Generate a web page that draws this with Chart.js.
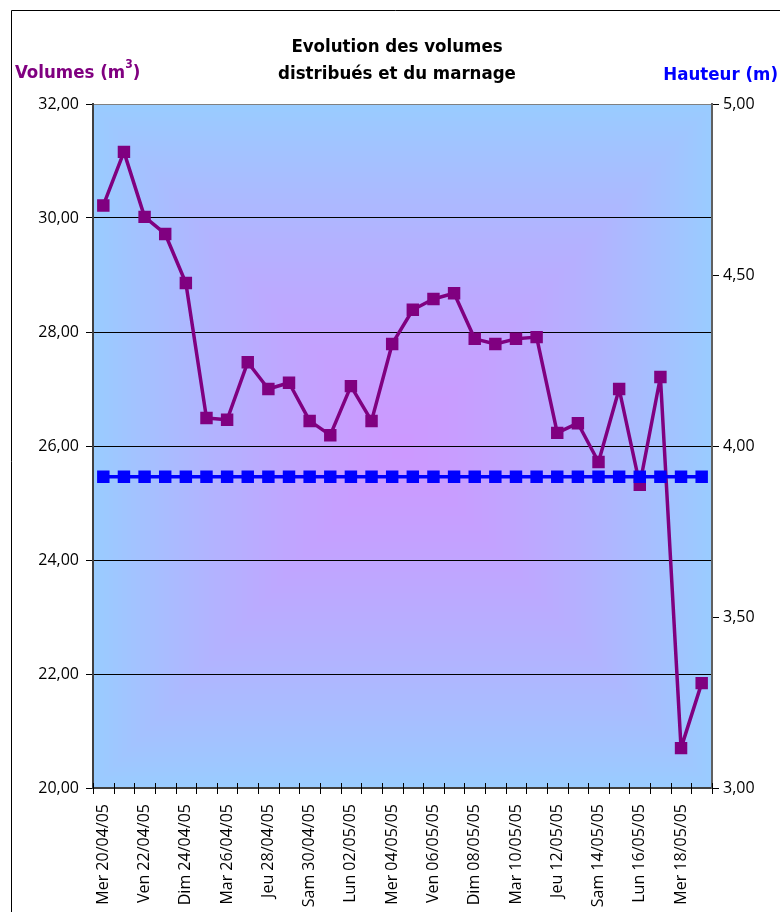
<!DOCTYPE html>
<html>
<head>
<meta charset="utf-8">
<script src="https://cdn.jsdelivr.net/npm/chart.js@4.4.1/dist/chart.umd.min.js"></script>
<style>
  html, body { margin: 0; padding: 0; background: #fff; overflow: hidden; }
  #wrap { position: relative; width: 780px; height: 912px; }
</style>
</head>
<body>
<div id="wrap"><canvas id="c" width="780" height="912"></canvas></div>
<script>
// Days of the period, one category per day
const days = [
  "Mer 20/04/05", "Jeu 21/04/05", "Ven 22/04/05", "Sam 23/04/05", "Dim 24/04/05",
  "Lun 25/04/05", "Mar 26/04/05", "Mer 27/04/05", "Jeu 28/04/05", "Ven 29/04/05",
  "Sam 30/04/05", "Dim 01/05/05", "Lun 02/05/05", "Mar 03/05/05", "Mer 04/05/05",
  "Jeu 05/05/05", "Ven 06/05/05", "Sam 07/05/05", "Dim 08/05/05", "Lun 09/05/05",
  "Mar 10/05/05", "Mer 11/05/05", "Jeu 12/05/05", "Ven 13/05/05", "Sam 14/05/05",
  "Dim 15/05/05", "Lun 16/05/05", "Mar 17/05/05", "Mer 18/05/05", "Jeu 19/05/05"
];

// Distributed volumes (m3), left axis
const volumes = [
  30.22, 31.16, 30.02, 29.72, 28.86, 26.49, 26.46, 27.47, 27.00, 27.11,
  26.44, 26.19, 27.05, 26.44, 27.79, 28.39, 28.58, 28.68, 27.88, 27.79,
  27.88, 27.91, 26.23, 26.40, 25.72, 27.00, 25.32, 27.21, 20.70, 21.84
];

// Water height (m), right axis
const hauteur = [
  3.91, 3.91, 3.91, 3.91, 3.91, 3.91, 3.91, 3.91, 3.91, 3.91,
  3.91, 3.91, 3.91, 3.91, 3.91, 3.91, 3.91, 3.91, 3.91, 3.91,
  3.91, 3.91, 3.91, 3.91, 3.91, 3.91, 3.91, 3.91, 3.91, 3.91
];

// Axis tick values
const volumeTicks = [20, 22, 24, 26, 28, 30, 32];
const hauteurTicks = [3.0, 3.5, 4.0, 4.5, 5.0];

const TICK_FONT = "'Open Sans', sans-serif";
const TITLE_FONT = "'DejaVu Sans Condensed', 'DejaVu Sans', sans-serif";

const fmt = v => Number(v).toFixed(2).replace('.', ',');

// "From centre" gradient behind the plot: lilac in the middle, sky blue at the edges
const backdrop = {
  id: 'backdrop',
  beforeDraw(chart) {
    const a = chart.chartArea;
    const ctx = chart.ctx;
    const w = Math.round(a.right - a.left), h = Math.round(a.bottom - a.top);
    const img = ctx.createImageData(w, h);
    const edge = [153, 204, 255], mid = [204, 153, 255];
    const cx = w / 2, cy = h / 2;
    for (let y = 0; y < h; y++) {
      for (let x = 0; x < w; x++) {
        const r = Math.max(Math.abs(x - cx) / cx, Math.abs(y - cy) / cy);
        const t = Math.min(1, Math.pow(r, 1.4));
        const i = (y * w + x) * 4;
        img.data[i] = mid[0] + (edge[0] - mid[0]) * t;
        img.data[i + 1] = mid[1] + (edge[1] - mid[1]) * t;
        img.data[i + 2] = mid[2] + (edge[2] - mid[2]) * t;
        img.data[i + 3] = 255;
      }
    }
    ctx.putImageData(img, Math.round(a.left), Math.round(a.top));
  }
};

// Frame, titles and category tick marks crossing the x axis
const decor = {
  id: 'decor',
  afterDraw(chart) {
    const ctx = chart.ctx;
    const a = chart.chartArea;
    ctx.save();
    // outer frame
    ctx.strokeStyle = '#000';
    ctx.lineWidth = 1;
    ctx.beginPath();
    ctx.moveTo(11.5, 912);
    ctx.lineTo(11.5, 10.5);
    ctx.lineTo(780, 10.5);
    ctx.stroke();

    // chart title
    ctx.fillStyle = '#000';
    ctx.textAlign = 'center';
    ctx.textBaseline = 'middle';
    ctx.font = "bold 18.5px " + TITLE_FONT;
    ctx.fillText('Evolution des volumes', 397, 47);
    ctx.fillText('distribués et du marnage', 397, 74);

    // left axis title with superscript
    ctx.textAlign = 'left';
    ctx.fillStyle = '#800080';
    ctx.font = "bold 18.5px " + TITLE_FONT;
    const t1 = 'Volumes (m';
    ctx.fillText(t1, 15, 73);
    let x = 15 + ctx.measureText(t1).width;
    ctx.font = "bold 12px " + TITLE_FONT;
    ctx.fillText('3', x, 65);
    x += ctx.measureText('3').width;
    ctx.font = "bold 18.5px " + TITLE_FONT;
    ctx.fillText(')', x, 73);

    // right axis title
    ctx.textAlign = 'right';
    ctx.fillStyle = '#0000FF';
    ctx.fillText('Hauteur (m)', 778, 75);

    // x tick marks at category boundaries
    const xs = chart.scales.x;
    const step = xs.getPixelForValue(1) - xs.getPixelForValue(0);
    ctx.strokeStyle = '#000';
    ctx.lineWidth = 1;
    ctx.beginPath();
    for (let i = 0; i <= days.length; i++) {
      const px = Math.round(xs.getPixelForValue(i) - step / 2) + 0.5;
      ctx.moveTo(px, a.bottom - 5);
      ctx.lineTo(px, a.bottom + 6);
    }
    ctx.stroke();
    ctx.restore();
  }
};

new Chart(document.getElementById('c'), {
  type: 'line',
  data: {
    labels: days,
    datasets: [
      {
        label: 'Hauteur (m)',
        data: hauteur,
        yAxisID: 'y1',
        order: 0,
        borderColor: '#0000FF',
        backgroundColor: '#0000FF',
        borderWidth: 3.5,
        borderJoinStyle: 'round',
        pointStyle: 'rect',
        pointRadius: 8.8,
        pointBorderWidth: 0,
        pointBackgroundColor: '#0000FF',
        fill: false,
        tension: 0
      },
      {
        label: 'Volumes (m3)',
        data: volumes,
        yAxisID: 'y',
        order: 1,
        borderColor: '#800080',
        backgroundColor: '#800080',
        borderWidth: 3.5,
        borderJoinStyle: 'round',
        pointStyle: 'rect',
        pointRadius: 8.8,
        pointBorderWidth: 0,
        pointBackgroundColor: '#800080',
        fill: false,
        tension: 0
      }
    ]
  },
  options: {
    responsive: false,
    animation: false,
    events: [],
    layout: { padding: { top: 104, left: 0, right: 0, bottom: 0 } },
    plugins: { legend: { display: false }, tooltip: { enabled: false }, title: { display: false } },
    scales: {
      x: {
        type: 'category',
        offset: true,
        grid: { display: false, offset: true },
        border: { display: true, color: '#404040', width: 2 },
        ticks: {
          autoSkip: false,
          minRotation: 90,
          maxRotation: 90,
          padding: 8,
          color: '#000',
          font: { family: TICK_FONT, size: 16 },
          callback: (v, i) => (i % 2 === 0 ? days[i] : '')
        },
        afterFit: s => { s.height = 124; }
      },
      y: {
        position: 'left',
        min: volumeTicks[0],
        max: volumeTicks[volumeTicks.length - 1],
        afterBuildTicks: s => { s.ticks = volumeTicks.map(v => ({ value: v })); },
        grid: {
          color: ctx => (ctx.tick && ctx.tick.value === 32 ? '#808080' : '#000'),
          lineWidth: 1,
          tickLength: 7,
          tickColor: '#000'
        },
        border: { color: '#404040', width: 2 },
        ticks: {
          padding: 7,
          color: '#000',
          font: { family: TICK_FONT, size: 16 },
          callback: v => fmt(v)
        },
        afterFit: s => { s.width = 93; }
      },
      y1: {
        position: 'right',
        min: hauteurTicks[0],
        max: hauteurTicks[hauteurTicks.length - 1],
        afterBuildTicks: s => { s.ticks = hauteurTicks.map(v => ({ value: v })); },
        grid: {
          drawOnChartArea: false,
          tickLength: 7,
          tickColor: '#000'
        },
        border: { color: '#606060', width: 2 },
        ticks: {
          padding: 4,
          color: '#000',
          font: { family: TICK_FONT, size: 16 },
          callback: v => fmt(v)
        },
        afterFit: s => { s.width = 68; }
      }
    }
  },
  plugins: [backdrop, decor]
});
</script>
</body>
</html>
